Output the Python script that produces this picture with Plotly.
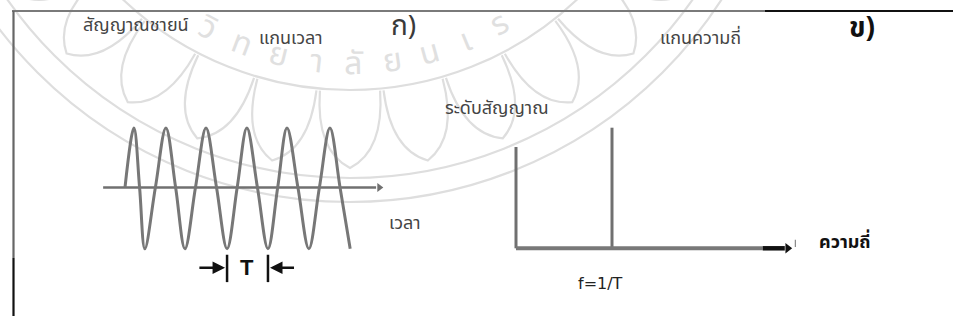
import math
import plotly.graph_objects as go

W, H = 953, 320

# ---- time domain: a sine signal, t in periods, amplitude normalised ----
wave_t = [0.00, 0.22, 0.36, 0.49, 0.75, 1.01, 1.25, 1.48, 1.74, 2.00, 2.26,
          2.52, 2.77, 3.01, 3.27, 3.53, 3.77, 4.00, 4.27, 4.54, 4.80, 5.06,
          5.31, 5.56]
wave_a = [0.0, 1.0, 0.0, -1.03, 0.0, 1.0, 0.0, -1.03, 0.0, 1.0, 0.0,
          -1.03, 0.0, 1.0, 0.0, -1.03, 0.0, 1.0, 0.0, -1.03, 0.0, 1.0,
          0.0, -1.03]
time_axis = [-0.54, 6.20]          # extent of the time axis
period_marks = [2.52, 3.53]        # one period T between two troughs

# ---- frequency domain: a single spectral line at f = 1/T ----
freq_axis = [0.0, 2.57]            # grey part of the frequency axis
freq_axis_end = [2.57, 2.80]       # dark part ending in the arrow
level_axis = [0.0, 0.84]           # height of the level axis
spec_f = [1.0]
spec_a = [1.0]

# ---- faint seal in the background ----
seal_text = ["วิ", "ท", "ย", "า", "ลั", "ย", "น", "เ", "ร"]

GREY = "#707070"
WM = "#dedede"
THAI = "Noto Sans Thai, Loma, Garuda, Tahoma, Noto Sans, DejaVu Sans, sans-serif"


def px(x):
    return x / W


def py(y):
    return 1 - y / H


fig = go.Figure()

# time axis with arrow
fig.add_trace(go.Scatter(x=time_axis, y=[0, 0], mode="lines",
                         line=dict(color=GREY, width=2.5),
                         xaxis="x2", yaxis="y2", hoverinfo="skip"))
fig.add_trace(go.Scatter(x=[time_axis[1] + 0.08], y=[0], mode="markers",
                         marker=dict(symbol="triangle-right", size=8, color=GREY),
                         xaxis="x2", yaxis="y2", hoverinfo="skip"))
# the sine wave
fig.add_trace(go.Scatter(x=wave_t, y=wave_a, mode="lines",
                         line=dict(color="#777777", width=3, shape="spline",
                                   smoothing=1.0),
                         xaxis="x2", yaxis="y2", hoverinfo="skip"))
# period bars
for t in period_marks:
    fig.add_trace(go.Scatter(x=[t, t], y=[-1.13, -1.59], mode="lines",
                             line=dict(color="#111111", width=2.5),
                             xaxis="x2", yaxis="y2", hoverinfo="skip"))

# level axis, spectral line and frequency axis
fig.add_trace(go.Scatter(x=[0, 0], y=level_axis, mode="lines",
                         line=dict(color=GREY, width=3),
                         xaxis="x3", yaxis="y3", hoverinfo="skip"))
for f, a in zip(spec_f, spec_a):
    fig.add_trace(go.Scatter(x=[f, f], y=[0, a], mode="lines",
                             line=dict(color=GREY, width=3),
                             xaxis="x3", yaxis="y3", hoverinfo="skip"))
fig.add_trace(go.Scatter(x=freq_axis, y=[0, 0], mode="lines",
                         line=dict(color="#787878", width=4),
                         xaxis="x3", yaxis="y3", hoverinfo="skip"))
fig.add_trace(go.Scatter(x=freq_axis_end, y=[0, 0], mode="lines",
                         line=dict(color="#111111", width=4.5),
                         xaxis="x3", yaxis="y3", hoverinfo="skip"))
fig.add_trace(go.Scatter(x=[freq_axis_end[1] + 0.03], y=[0], mode="markers",
                         marker=dict(symbol="triangle-right", size=9,
                                     color="#111111"),
                         xaxis="x3", yaxis="y3", hoverinfo="skip"))
fig.add_trace(go.Scatter(x=[2.91, 2.91], y=[0.01, 0.07], mode="lines",
                         line=dict(color="#888888", width=1.2),
                         xaxis="x3", yaxis="y3", hoverinfo="skip"))

# ---- background seal: rings, lotus petals and arced lettering ----
CX, CY = 350, -240
shapes = []
for r in (330, 418, 442):
    shapes.append(dict(type="circle", xref="paper", yref="paper",
                       x0=px(CX - r), x1=px(CX + r), y0=py(CY + r), y1=py(CY - r),
                       line=dict(color=WM, width=2.2), layer="below"))


def polar(r, deg):
    a = math.radians(deg)
    return CX + r * math.sin(a), CY + r * math.cos(a)


for k in range(-6, 7):
    c = k * 11.0
    bl = polar(332, c - 5.2)
    br = polar(332, c + 5.2)
    tip = polar(408, c)
    cl = polar(392, c - 5.0)
    cr = polar(392, c + 5.0)
    path = (f"M {px(bl[0])},{py(bl[1])} "
            f"Q {px(cl[0])},{py(cl[1])} {px(tip[0])},{py(tip[1])} "
            f"Q {px(cr[0])},{py(cr[1])} {px(br[0])},{py(br[1])}")
    shapes.append(dict(type="path", xref="paper", yref="paper", path=path,
                       line=dict(color=WM, width=2.2), layer="below"))

# frame
shapes += [
    dict(type="line", xref="paper", yref="paper", x0=px(12), x1=px(765),
         y0=py(11), y1=py(11), line=dict(color="#7a7a7a", width=1.8)),
    dict(type="line", xref="paper", yref="paper", x0=px(765), x1=px(953),
         y0=py(11), y1=py(11), line=dict(color="#111111", width=2)),
    dict(type="line", xref="paper", yref="paper", x0=px(13.5), x1=px(13.5),
         y0=py(11), y1=py(258), line=dict(color="#666666", width=2.2)),
    dict(type="line", xref="paper", yref="paper", x0=px(13.5), x1=px(13.5),
         y0=py(258), y1=py(316), line=dict(color="#111111", width=2.2)),
]


def label(text, x, y, size=17, color="#444444", family=THAI, bold=False):
    if bold:
        text = "<b>" + text + "</b>"
    return dict(text=text, x=px(x), y=py(y), xref="paper", yref="paper",
                showarrow=False, xanchor="center", yanchor="middle",
                font=dict(family=family, size=size, color=color))


annotations = []
# arced lettering of the seal
start, step = -28.0, 7.2
for i, ch in enumerate(seal_text):
    ang = start + i * step
    x, y = polar(304, ang)
    a = label(ch, x, y, size=32, color="#e0e0e0")
    a["textangle"] = -ang
    annotations.append(a)

annotations += [
    label("สัญญาณชายน์", 136, 25, size=18),
    label("แกนเวลา", 291, 39, size=18),
    label("ก)", 403, 27, size=28, color="#3a3a3a"),
    label("ระดับสัญญาณ", 497, 108, size=18),
    label("แกนความถี่", 700, 38, size=18),
    label("ข)", 862, 28, size=28, color="#111111", bold=True),
    label("เวลา", 405, 223, size=18),
    label("ความถี่", 845, 242, size=18, color="#111111", bold=True),
    label("f=1/T", 600, 283, size=16, color="#222222",
          family="Liberation Sans Narrow, Arial Narrow, DejaVu Sans, sans-serif"),
    # period arrows and label
    dict(x=2.47, y=-1.35, ax=1.80, ay=-1.35, xref="x2", yref="y2",
         axref="x2", ayref="y2", showarrow=True, arrowhead=2, arrowsize=1,
         arrowwidth=2.5, arrowcolor="#111111", text=""),
    dict(x=3.58, y=-1.35, ax=4.21, ay=-1.35, xref="x2", yref="y2",
         axref="x2", ayref="y2", showarrow=True, arrowhead=2, arrowsize=1,
         arrowwidth=2.5, arrowcolor="#111111", text=""),
    dict(x=3.02, y=-1.35, xref="x2", yref="y2", showarrow=False,
         text="<b>T</b>", font=dict(family="Liberation Sans Narrow, Arial Narrow, sans-serif",
                                    size=22, color="#111111")),
]

hidden = dict(visible=False, showgrid=False, zeroline=False, fixedrange=True)

fig.update_layout(
    width=W, height=H,
    margin=dict(l=0, r=0, t=0, b=0),
    paper_bgcolor="white", plot_bgcolor="rgba(0,0,0,0)",
    showlegend=False,
    xaxis=dict(hidden, range=[0, 1], domain=[0, 1]),
    yaxis=dict(hidden, range=[0, 1], domain=[0, 1]),
    xaxis2=dict(hidden, range=[(100 - 125) / 40.5, (385 - 125) / 40.5],
                domain=[px(100), px(385)], anchor="y2"),
    yaxis2=dict(hidden, range=[(187.5 - 300) / 59.5, (187.5 - 100) / 59.5],
                domain=[py(300), py(100)], anchor="x2"),
    xaxis3=dict(hidden, range=[(490 - 516) / 96, (810 - 516) / 96],
                domain=[px(490), px(810)], anchor="y3"),
    yaxis3=dict(hidden, range=[(248.3 - 270) / 120.6, (248.3 - 110) / 120.6],
                domain=[py(270), py(110)], anchor="x3"),
    shapes=shapes,
    annotations=annotations,
)

fig.write_html("out.html", config=dict(displayModeBar=False, staticPlot=True))
